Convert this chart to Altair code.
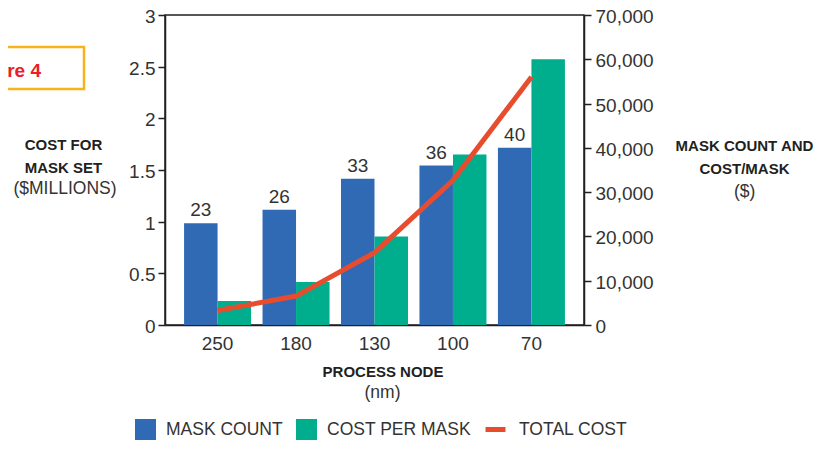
import altair as alt
import pandas as pd

# ---- data ----
nodes = ["250", "180", "130", "100", "70"]
mask_count = [23, 26, 33, 36, 40]
cost_per_mask = [5400, 9700, 20000, 38500, 60000]
total_cost = [0.14, 0.28, 0.70, 1.40, 2.40]

bar_series = ["MASK COUNT", "COST PER MASK"]
bar_colors = ["#316AB4", "#00AE8E"]
line_color = "#E84C2E"
left_ticks = [0, 0.5, 1, 1.5, 2, 2.5, 3]
right_ticks = [0, 10000, 20000, 30000, 40000, 50000, 60000, 70000]

rows = []
for n, m, c in zip(nodes, mask_count, cost_per_mask):
    rows.append({"node": n, "series": "MASK COUNT", "value": m * 1000, "label": str(m)})
    rows.append({"node": n, "series": "COST PER MASK", "value": c, "label": ""})
bars_df = pd.DataFrame(rows)
line_df = pd.DataFrame({"node": nodes, "total": total_cost, "series": ["TOTAL COST"] * len(nodes)})

TXT = "#333333"
AX = "#231F20"
FONT = "Liberation Sans"
BOLD = "Liberation Sans"
TSIZE = 15

x_enc = alt.X(
    "node:N", sort=nodes,
    scale=alt.Scale(paddingInner=0.146, paddingOuter=0.243),
    axis=alt.Axis(
        title="PROCESS NODE", titleFont=BOLD, titleFontSize=TSIZE, titleFontWeight="bold",
        titleColor=AX, titleX=217.5, titleY=46, titleBaseline="middle", titleAlign="center",
        titleAnchor="middle",
        labelAngle=0, labelFont=FONT, labelFontSize=19, labelColor=TXT, labelPadding=9,
        ticks=False, domainColor=AX, domainWidth=1.5,
    ),
)
xoff = alt.XOffset("series:N", sort=bar_series,
                   scale=alt.Scale(domain=bar_series, paddingInner=0, paddingOuter=0))

right_axis = alt.Axis(
    orient="right", values=right_ticks, format=",d", grid=False,
    labelFont=FONT, labelFontSize=19, labelColor=TXT, labelPadding=4, labelOffset=1.5,
    tickSize=7, tickColor=AX, tickWidth=1.5, domainColor=AX, domainWidth=1.5,
    title=["MASK COUNT AND", "COST/MASK"], titleAngle=0, titleFont=BOLD,
    titleFontSize=TSIZE, titleFontWeight="bold", titleColor=AX, titleLineHeight=23,
    titleX=160, titleY=123, titleAlign="center", titleBaseline="top",
)

bars = alt.Chart(bars_df).mark_bar().encode(
    x=x_enc,
    xOffset=xoff,
    y=alt.Y("value:Q", scale=alt.Scale(domain=[0, 70000], nice=False), axis=right_axis),
    color=alt.Color(
        "series:N",
        scale=alt.Scale(domain=bar_series, range=bar_colors),
        legend=alt.Legend(
            title=None, orient="none", legendX=-30, legendY=404, direction="horizontal",
            columns=2, symbolType="square", symbolSize=441, symbolStrokeWidth=0,
            labelFont=FONT, labelFontSize=17.5, labelColor=TXT, labelOffset=10,
            columnPadding=13,
        ),
    ),
)

labels = alt.Chart(bars_df).mark_text(
    baseline="bottom", dy=-3, font=FONT, fontSize=19, color=TXT
).encode(
    x=alt.X("node:N", sort=nodes),
    xOffset=xoff,
    y=alt.Y("value:Q", scale=alt.Scale(domain=[0, 70000], nice=False), axis=right_axis),
    text="label:N",
)

line = alt.Chart(line_df).mark_line(strokeWidth=5).encode(
    x=alt.X("node:N", sort=nodes),
    y=alt.Y(
        "total:Q",
        scale=alt.Scale(domain=[0, 3], nice=False),
        axis=alt.Axis(
            orient="left", values=left_ticks, format="~g", grid=False,
            labelFont=FONT, labelFontSize=19, labelColor=TXT, labelPadding=3,
            labelOffset=1.5,
            tickSize=7, tickColor=AX, tickWidth=1.5, domainColor=AX, domainWidth=1.5,
            title=["COST FOR", "MASK SET"], titleAngle=0, titleFont=BOLD,
            titleFontSize=TSIZE, titleFontWeight="bold", titleColor=AX, titleLineHeight=23,
            titleX=-102, titleY=122, titleAlign="center", titleBaseline="top",
        ),
    ),
    stroke=alt.Stroke(
        "series:N",
        scale=alt.Scale(domain=["TOTAL COST"], range=[line_color]),
        legend=alt.Legend(
            title=None, orient="none", legendX=318, legendY=402, direction="horizontal",
            symbolType="stroke", symbolSize=400, symbolStrokeWidth=5,
            labelFont=FONT, labelFontSize=17.5, labelColor=TXT, labelOffset=11,
        ),
    ),
)

note_df = pd.DataFrame({"t": ["x"]})


def note(text, x, y, **kw):
    return alt.Chart(note_df).mark_text(
        text=text, align="center", baseline="middle", **kw
    ).encode(x=alt.value(x), y=alt.value(y))


sub_left = note("($MILLIONS)", -100, 174, font=FONT, fontSize=17.5, color=TXT)
sub_right = note("($)", 579.7, 177, font=FONT, fontSize=17.5, color=TXT)
sub_x = note("(nm)", 217.5, 378, font=FONT, fontSize=17.5, color=TXT)

fig_box = alt.Chart(note_df).mark_rect(
    fill="white", fillOpacity=0, stroke="#F7B418", strokeWidth=2.5
).encode(x=alt.value(-200), x2=alt.value(-81), y=alt.value(32), y2=alt.value(74))
fig_text = alt.Chart(note_df).mark_text(
    text="Figure 4", align="right", baseline="middle", font=BOLD, fontSize=19,
    fontWeight="bold", color="#E8202A"
).encode(x=alt.value(-124), y=alt.value(56))

chart = alt.layer(
    alt.layer(bars, labels),
    line,
    sub_left, sub_right, sub_x, fig_box, fig_text,
).resolve_scale(
    y="independent"
).properties(
    width=419, height=310,
    autosize=alt.AutoSizeParams(type="none"),
    padding={"left": 157, "top": 7, "right": 231, "bottom": 116},
).configure_view(
    stroke=AX, strokeWidth=1.5
)

chart.save("out.html", embed_options={"renderer": "svg", "actions": False})
